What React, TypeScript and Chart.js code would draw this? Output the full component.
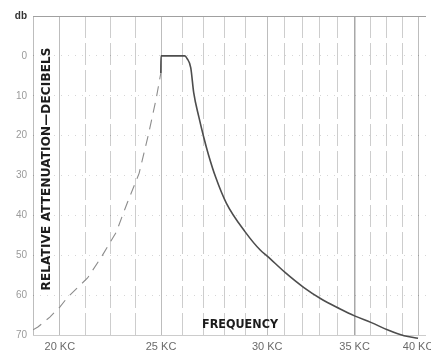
import React, { useEffect, useRef } from 'react';
import { Chart, registerables, LinearScale } from 'chart.js';

// ---- data ----
const X_GRID_KC = [18.68, 20, 21.25, 22.5, 23.75, 25, 26, 27, 28, 29, 30, 31, 32, 33, 34, 35, 36.25, 37.5, 38.75, 40, 40.63];
const X_LABELED_KC = [20, 25, 30, 35, 40];
const Y_TICKS_DB = [-10, 0, 10, 20, 30, 40, 50, 60, 70];

// measured response: pass band and upper skirt (solid)
const PASS_KC = [24.99, 25.0, 26.12, 26.22, 26.4, 26.54, 26.78, 27.01, 27.24, 27.57, 28.08, 28.97, 29.67, 30.0, 31.02, 32.1, 33.07, 34.15, 35.0, 36.33, 37.58, 38.9, 40.0];
const PASS_DB = [4.3, 0, 0, 0.6, 3.0, 9.3, 15.3, 20.4, 24.9, 30.4, 37.0, 44.2, 48.7, 50.2, 54.3, 58.1, 60.9, 63.4, 65.2, 66.9, 68.7, 70.2, 70.8];

// lower skirt (dashed)
const LOW_KC = [18.68, 18.92, 19.51, 20.0, 20.39, 21.37, 22.06, 22.79, 23.09, 23.33, 23.92, 24.36, 24.75, 24.99];
const LOW_DB = [68.7, 68.0, 65.5, 63.0, 60.5, 55.7, 50.4, 44.2, 40.1, 36.9, 29.4, 20.1, 11.0, 4.3];

const Y_TITLE = 'RELATIVE ATTENUATION\u2014DECIBELS';
const X_TITLE = 'FREQUENCY';

// printed frequency axis is not uniform: KC -> fraction of plot width
const WARP_KC = [18.68, 20, 25, 30, 35, 40, 40.63];
const WARP_FRAC = [0, 0.0682, 0.3258, 0.596, 0.8182, 0.9798, 1];

function interp(v: number, xs: number[], ys: number[]): number {
  const n = xs.length;
  let i = 0;
  if (v <= xs[0]) i = 0;
  else if (v >= xs[n - 1]) i = n - 2;
  else {
    while (i < n - 2 && v > xs[i + 1]) i++;
  }
  const t = (v - xs[i]) / (xs[i + 1] - xs[i]);
  return ys[i] + t * (ys[i + 1] - ys[i]);
}

class WarpedScale extends LinearScale {
  static id = 'warped';
  static defaults = {};
  getPixelForValue(value: any) {
    if (value === null || value === undefined || isNaN(value)) return NaN;
    return this.getPixelForDecimal(interp(+value, WARP_KC, WARP_FRAC));
  }
  getValueForPixel(pixel: number) {
    return interp(this.getDecimalForPixel(pixel), WARP_FRAC, WARP_KC);
  }
}

Chart.register(...registerables, WarpedScale as any);

function drawFitted(ctx: any, text: string, cx: number, cy: number, target: number, rot: number, font: string) {
  ctx.save();
  ctx.font = font;
  ctx.letterSpacing = '0px';
  const w = ctx.measureText(text).width;
  const sp = (target - w) / (text.length - 1);
  ctx.translate(cx, cy);
  ctx.rotate(rot);
  ctx.textAlign = 'center';
  ctx.textBaseline = 'middle';
  if (sp >= 0) {
    ctx.letterSpacing = sp + 'px';
    ctx.fillText(text, sp / 2, 0);
  } else {
    ctx.scale(target / w, 1);
    ctx.fillText(text, 0, 0);
  }
  ctx.restore();
}

const titlePlugin = {
  id: 'inPlotTitles',
  afterDraw(chart: any) {
    const { ctx, chartArea: a } = chart;
    ctx.save();
    ctx.fillStyle = '#1c1c1c';
    drawFitted(ctx, Y_TITLE, a.left + 14, a.top + 153, 243, -Math.PI / 2, 'bold 12px "DejaVu Sans"');
    drawFitted(ctx, X_TITLE, a.left + 207, a.bottom - 10, 76, 0, 'bold 12px "DejaVu Sans"');
    ctx.restore();
  },
};

export default function App() {
  const ref = useRef<HTMLCanvasElement>(null);
  useEffect(() => {
    if (!ref.current) return;
    const chart = new Chart(ref.current, {
      type: 'line',
      data: {
        datasets: [
          {
            data: PASS_KC.map((x, i) => ({ x, y: PASS_DB[i] })),
            borderColor: '#4d4d4d',
            borderWidth: 1.6,
            pointRadius: 0,
            cubicInterpolationMode: 'monotone',
            fill: false,
            clip: { left: 0, top: 0, right: 0, bottom: 4 } as any,
          },
          {
            data: LOW_KC.map((x, i) => ({ x, y: LOW_DB[i] })),
            borderColor: '#8c8c8c',
            borderWidth: 1.1,
            borderDash: [10, 7],
            pointRadius: 0,
            tension: 0,
            fill: false,
          },
        ],
      },
      options: {
        animation: false,
        responsive: true,
        maintainAspectRatio: false,
        layout: { padding: { top: 16, right: 2, left: 0, bottom: 0 } },
        plugins: { legend: { display: false }, tooltip: { enabled: false }, title: { display: false } },
        scales: {
          x: {
            type: 'warped' as any,
            min: 18.68,
            max: 40.63,
            afterBuildTicks: (s: any) => {
              s.ticks = X_GRID_KC.map((v) => ({ value: v }));
            },
            afterFit: (s: any) => {
              s.height = 20;
            },
            ticks: {
              autoSkip: false,
              maxRotation: 0,
              minRotation: 0,
              padding: 5,
              color: '#6a6a6a',
              font: { family: '"Liberation Sans", sans-serif', size: 11 },
              callback: (v: any) => (X_LABELED_KC.includes(Number(v)) ? `${v} KC` : ''),
            },
            grid: {
              drawTicks: false,
              color: (c: any) => {
                const v = c.tick ? c.tick.value : null;
                if (v === 40.63) return 'rgba(0,0,0,0)';
                if (v === 35) return '#a8a8a8';
                if (X_LABELED_KC.includes(v) || v === 18.68) return '#bdbdbd';
                return '#cdcdcd';
              },
              lineWidth: (c: any) => (c.tick && c.tick.value === 35 ? 1.5 : 1),
            },
            border: {
              display: false,
              dash: (c: any) => {
                const v = c.tick ? c.tick.value : null;
                return X_LABELED_KC.includes(v) || v === 18.68 ? [] : [22, 5];
              },
            },
          },
          y: {
            type: 'linear',
            reverse: true,
            min: -10,
            max: 70,
            afterBuildTicks: (s: any) => {
              s.ticks = Y_TICKS_DB.map((v) => ({ value: v }));
            },
            afterFit: (s: any) => {
              s.width = 33;
            },
            ticks: {
              padding: 6,
              color: (c: any) => (c.tick && c.tick.value === -10 ? '#333' : '#9a9a9a'),
              font: (c: any) =>
                c.tick && c.tick.value === -10
                  ? { family: '"Liberation Sans", sans-serif', size: 10, weight: 'bold' }
                  : { family: '"Liberation Sans", sans-serif', size: 10 },
              callback: (v: any) => (Number(v) === -10 ? 'db' : String(v)),
            },
            grid: {
              drawTicks: false,
              color: (c: any) => {
                const v = c.tick ? c.tick.value : null;
                if (v === -10) return '#a0a0a0';
                if (v === 70) return '#cccccc';
                return 'rgba(0,0,0,0.16)';
              },
            },
            border: {
              display: false,
              dash: (c: any) => {
                const v = c.tick ? c.tick.value : null;
                return v === -10 || v === 70 ? [] : [1, 6];
              },
            },
          },
        },
      } as any,
      plugins: [titlePlugin],
    });
    return () => chart.destroy();
  }, []);
  return (
    <div style={{ position: 'absolute', left: 0, top: 0, width: 431, height: 355, background: '#fff' }}>
      <canvas ref={ref} />
    </div>
  );
}
